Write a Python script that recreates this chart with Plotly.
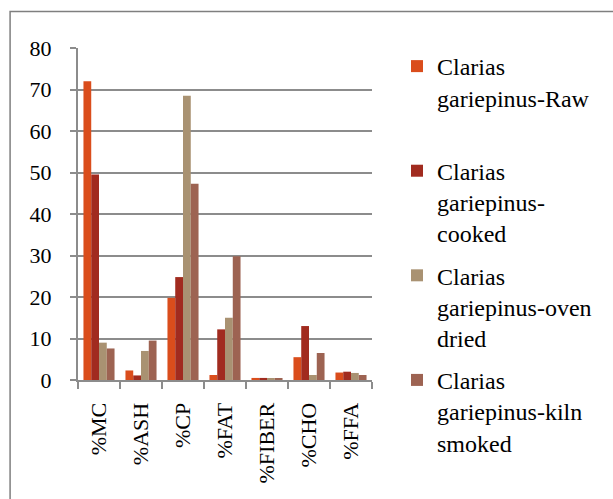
import plotly.graph_objects as go

# Proximate composition of Clarias gariepinus by processing method
components = ["%MC", "%ASH", "%CP", "%FAT", "%FIBER", "%CHO", "%FFA"]
raw = [72.0, 2.3, 19.8, 1.2, 0.5, 5.5, 1.8]
cooked = [49.5, 1.1, 24.8, 12.2, 0.5, 13.0, 2.0]
oven_dried = [9.0, 7.0, 68.5, 15.0, 0.4, 1.2, 1.7]
kiln_smoked = [7.6, 9.5, 47.3, 29.8, 0.4, 6.5, 1.2]

series_names = [
    "Clarias<br>gariepinus-Raw<br> ",
    "Clarias<br>gariepinus-<br>cooked",
    "Clarias<br>gariepinus-oven<br>dried",
    "Clarias<br>gariepinus-kiln<br>smoked",
]
series_values = [raw, cooked, oven_dried, kiln_smoked]
colors = ["#DA4D1C", "#A12B1F", "#A99272", "#9D6352"]

font_family = "Liberation Serif, serif"

fig = go.Figure()
for name, vals, col, grp in zip(series_names, series_values, colors, "abcd"):
    fig.add_trace(go.Bar(
        x=components,
        y=vals,
        name=name,
        legendgroup=grp,
        marker=dict(color=col, line=dict(width=0)),
    ))

fig.update_layout(
    width=613,
    height=499,
    barmode="group",
    bargap=0.26,
    bargroupgap=0,
    plot_bgcolor="white",
    paper_bgcolor="white",
    margin=dict(l=78, r=241, t=48, b=119, autoexpand=False),
    font=dict(family=font_family, size=21, color="black"),
    legend=dict(
        x=1.085,
        y=1.012,
        xanchor="left",
        yanchor="top",
        valign="top",
        traceorder="grouped",
        tracegroupgap=8,
        maxheight=600,
        font=dict(family=font_family, size=24, color="black"),
        itemwidth=30,
    ),
    xaxis=dict(
        automargin=False,
        showline=True,
        linecolor="#8C8C8C",
        linewidth=2,
        ticks="outside",
        tickson="boundaries",
        ticklen=7,
        tickcolor="#8C8C8C",
        tickwidth=2,
        tickangle=-90,
        ticklabelstandoff=12,
        tickfont=dict(family=font_family, size=22),
        showgrid=False,
    ),
    yaxis=dict(
        automargin=False,
        range=[0, 80],
        dtick=10,
        showline=True,
        linecolor="#8C8C8C",
        linewidth=2,
        ticks="outside",
        ticklen=6,
        tickcolor="#8C8C8C",
        tickwidth=2,
        ticklabelstandoff=14,
        showgrid=True,
        gridcolor="#8C8C8C",
        gridwidth=2,
        zeroline=False,
        tickfont=dict(family=font_family, size=22),
    ),
)

# outer chart border
fig.add_shape(
    type="rect", xref="paper", yref="paper",
    x0=-0.231, y0=-0.5, x1=1.9, y1=1.11,
    line=dict(color="#7F7F7F", width=1.5),
    fillcolor="rgba(0,0,0,0)",
    layer="below",
)

fig.write_html(
    "out.html",
    config={"displayModeBar": False},
    post_script="document.body.style.margin='0';",
)
